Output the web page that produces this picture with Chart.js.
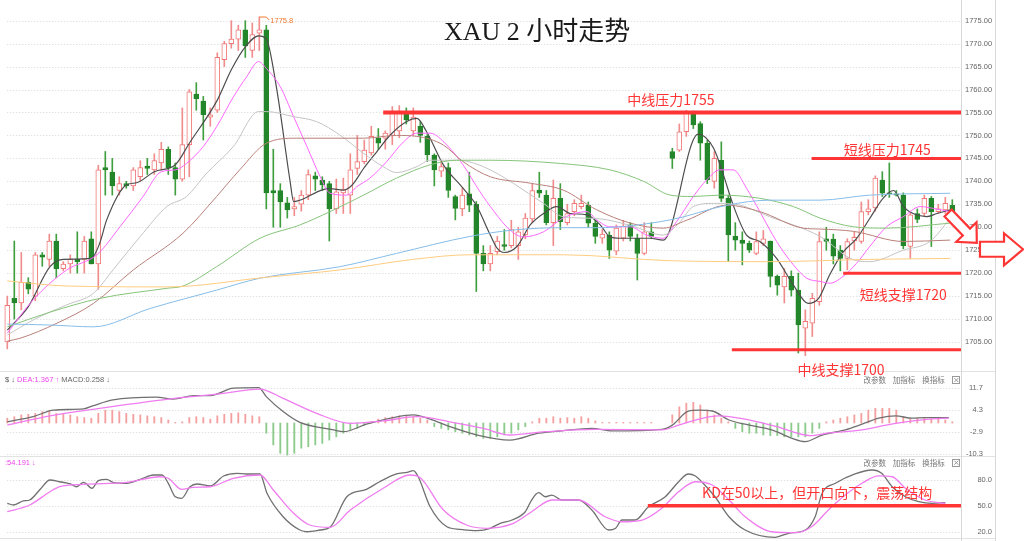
<!DOCTYPE html>
<html>
<head>
<meta charset="utf-8">
<title>XAU 2 小时走势</title>
<script src="https://cdn.jsdelivr.net/npm/chart.js@4.4.0/dist/chart.umd.min.js"></script>
<style>
  html, body { margin: 0; padding: 0; background: #fff; }
  canvas { display: block; }
</style>
</head>
<body>
<canvas id="chart" width="1024" height="541"></canvas>
<script>
// XAU 2h candles + MA lines, MACD and KD panels

// one entry per 2h bar: [open, high, low, close]; null = empty slot
const ohlc = [
  [1705, 1715, 1703.5, 1713], [1714.5, 1727, 1710, 1713.5], [1713.5, 1724.5, 1712, 1718], [1718, 1719, 1715.5, 1716.5],
  [1715, 1724.5, 1714, 1724], [1724, 1724.5, 1721.5, 1723.5], [1723, 1728.5, 1721.5, 1727], [1727, 1728.5, 1719, 1721],
  [1721, 1722.5, 1720.5, 1722], [1722, 1724, 1720, 1723], [1723, 1729, 1720, 1722.5], [1723, 1728, 1720, 1727],
  [1727.5, 1729, 1722, 1722], [1722, 1743.5, 1716.5, 1742.5], [1743, 1746.5, 1737, 1742.5], [1742, 1745, 1737, 1739],
  [1738, 1741, 1737, 1739.5], [1739.5, 1740, 1738.5, 1739], [1739, 1743, 1738, 1742.5], [1741, 1744.5, 1740, 1743],
  [1743.3, 1745, 1741.5, 1742.8], [1742.5, 1746, 1741.5, 1744.5], [1744, 1748.5, 1742.5, 1747], [1747, 1747.5, 1741.5, 1743],
  [1743, 1744, 1737, 1740.5], [1740.5, 1756, 1740, 1748], [1748, 1760, 1741, 1759.5], [1759, 1761.5, 1755.5, 1758],
  [1757.5, 1758.5, 1749, 1754.5], [1754, 1756, 1752, 1754.5], [1755.5, 1768, 1755, 1767], [1766.5, 1770.5, 1765, 1770],
  [1770, 1775, 1769, 1771], [1771, 1774, 1768.5, 1773], [1773, 1775, 1767, 1769.5], [1768.5, 1774.5, 1767, 1772],
  [1772.3, 1775.8, 1768.5, 1773], [1773, 1774, 1734, 1737.5], [1738, 1747, 1730, 1737.5], [1738, 1739.5, 1730, 1735.5],
  [1735.3, 1736.5, 1732, 1733.8], [1734, 1736.5, 1732.5, 1734.5], [1735, 1738, 1733.5, 1737], [1737, 1742.5, 1736, 1741.5],
  [1741.2, 1742, 1738, 1740.5], [1740.3, 1741, 1738, 1739.2], [1739.5, 1740, 1727, 1734], [1734, 1740.5, 1733, 1737.7],
  [1737.5, 1740.7, 1733, 1738.2], [1737, 1746, 1733, 1742.5], [1742.8, 1750, 1741.5, 1744.3], [1744.3, 1749, 1743.8, 1746.8],
  [1746.2, 1752, 1745.7, 1749.8], [1749.5, 1751.5, 1747, 1748.3], [1749.4, 1751, 1747, 1750.5], [1750, 1756.3, 1748, 1755],
  [1751, 1756.5, 1749.5, 1755], [1754.8, 1756, 1752.5, 1753.4], [1751, 1756, 1750, 1754], [1752, 1753, 1748.5, 1750],
  [1749.8, 1750.2, 1744.3, 1745.8], [1745.7, 1746, 1739, 1742.5], [1742.2, 1744.5, 1741, 1743.2], [1743, 1744, 1736.5, 1738],
  [1736.7, 1737, 1731.6, 1734.1], [1734, 1738.5, 1732.5, 1737], [1737.3, 1742, 1733.4, 1734.8], [1735, 1735.6, 1716, 1724.3],
  [1724.3, 1726, 1720.5, 1722], [1722, 1726, 1720.5, 1724.3], [1724.7, 1728, 1724, 1727], [1726.2, 1729.5, 1725, 1725.8],
  [1726, 1731.5, 1725.5, 1729.5], [1726, 1730, 1723, 1729], [1728.3, 1733, 1727.5, 1732], [1731.8, 1739.5, 1731, 1738],
  [1738.1, 1742, 1736.5, 1737.4], [1737, 1738, 1730.5, 1731], [1731, 1740.3, 1726, 1736.3], [1736.3, 1739.5, 1729.5, 1731.2],
  [1731, 1735, 1730.5, 1733], [1733.4, 1736, 1732.5, 1735.2], [1734.5, 1737, 1734, 1735.2], [1734.8, 1735.5, 1730, 1730.9],
  [1730.9, 1731.5, 1726.5, 1728], [1727.6, 1729.5, 1726.5, 1728.5], [1728.3, 1729, 1723.2, 1725], [1724.8, 1730.5, 1724, 1729.8],
  [1727.6, 1731.5, 1727, 1730.2], [1730.5, 1731, 1727, 1728], [1727.6, 1728.5, 1718.5, 1724.3], [1724.3, 1731, 1724, 1729],
  [1729, 1731, 1727.5, 1728], null, null, [1746.5, 1747.2, 1742.8, 1745],
  [1746.8, 1752.5, 1746.5, 1750.8], [1750.8, 1755.5, 1749.8, 1754.8], [1754.8, 1755.3, 1751.5, 1752.3], [1752.6, 1753, 1744.6, 1748.3],
  [1748.3, 1749, 1739.5, 1740.3], [1740, 1746.5, 1738.5, 1745], [1744.6, 1748.6, 1735.6, 1736.3], [1736.3, 1737, 1722.5, 1728.3],
  [1728, 1731, 1725, 1727.2], [1727.2, 1729, 1721.8, 1726.5], [1726.5, 1727, 1724.5, 1725], [1724.3, 1729, 1724, 1726.9],
  [1726.5, 1729.3, 1726, 1727.5], [1727, 1727, 1717, 1719.3], [1719.3, 1719.6, 1715.2, 1717.4], [1717, 1721, 1713.5, 1719.3],
  [1719.3, 1720.5, 1715, 1716.3], [1716.3, 1720, 1702.6, 1708.7], [1708, 1712, 1702, 1709.5], [1709.1, 1715.6, 1706.2, 1714.5],
  [1713.8, 1729, 1713, 1726.9], [1727.5, 1730, 1725, 1726.9], [1727.4, 1728.5, 1722, 1723.7], [1725, 1726, 1720.5, 1723.2],
  [1723.2, 1727.5, 1720.7, 1726.9], [1727, 1729, 1725, 1727.8], [1726.9, 1735.5, 1726.5, 1733.4], [1733.4, 1736, 1732.7, 1734],
  [1734.2, 1741.2, 1733.5, 1740.7], [1740.3, 1742.1, 1736.7, 1737.4], [1737.5, 1744, 1736.5, 1737.3], [1737.3, 1738, 1736.8, 1737],
  [1737, 1737.5, 1725.3, 1726], [1725.8, 1733.2, 1723.2, 1732.7], [1733, 1734, 1731, 1731.7], [1733, 1737, 1732.5, 1736.3],
  [1736.3, 1736.7, 1725.8, 1733.4], [1733.4, 1735, 1733, 1734], [1733.8, 1736.5, 1733, 1735.2], [1734.8, 1736, 1730.5, 1731.6]
];

// moving averages: [bar index, price]
const ma5 = [[0,1707.6],[3,1712.7],[6.1,1721.4],[8,1723],[12,1723.2],[13.2,1726.5],[14.2,1731.6],[17,1739.2],[18.5,1739.7],[21,1742.1],[24,1743.6],[26,1748.3],[30,1757.7],[32,1764.3],[34,1769.3],[35.9,1771.7],[37,1771],[38.5,1760],[40.4,1740],[40.9,1735.6],[42,1736],[44.9,1738.1],[46.1,1738.4],[48,1738.1],[49.2,1739.1],[50.9,1742.8],[52.8,1746.5],[54.7,1750.1],[57,1753],[58.5,1753.7],[59.9,1750.8],[62.3,1743.6],[65.1,1738.5],[67,1734.8],[69,1728.3],[70,1725.4],[71,1724.5],[72.8,1725.8],[74.7,1730.5],[76.6,1733],[78.5,1734.5],[80.4,1733],[82.8,1732.7],[84.7,1730.5],[86.1,1727.9],[87.5,1727.6],[89.4,1727.6],[91.8,1727.6],[93.7,1727.2],[98.7,1750.3],[100.9,1747.2],[102.3,1741.4],[103.7,1734.8],[105.6,1728.3],[107.5,1726.9],[109.9,1723.2],[112.3,1717.4],[114.4,1713.4],[115.9,1714.5],[117.5,1719.7],[119.4,1724.6],[121.3,1727.5],[123.2,1731.9],[125.1,1736.3],[126.6,1738],[128,1734.5],[129.4,1733],[131.3,1732.3],[132.8,1733],[134.7,1733.8]];
const ma10 = [[0,1706.9],[3.7,1714.2],[8.5,1720.7],[12.8,1724],[16.1,1730.1],[19.4,1736.7],[22,1742.1],[24,1742.5],[25.6,1743.9],[28,1747.6],[29.9,1751.9],[32.3,1758.4],[34.2,1762.8],[35.9,1766.1],[37,1764.6],[39,1760.6],[40.9,1754.1],[42.8,1747.6],[44.7,1741],[46.1,1737.4],[48.5,1737],[49.9,1738.8],[51.8,1740.7],[54.2,1744.3],[56.6,1748.6],[58.5,1750.5],[60.4,1750.5],[62.8,1747.9],[65.1,1743.6],[67.5,1737.8],[69.5,1733.5],[71.8,1729.4],[73.7,1727.9],[76.6,1729],[79.4,1732],[82.8,1733.4],[84.2,1731.6],[86.1,1730.1],[89,1730.1],[91.3,1728.3],[93.7,1727.6],[95.6,1731.2],[98,1736.7],[99.9,1740.3],[101.8,1742.5],[103.7,1742.5],[105.6,1738.5],[107.5,1733.4],[109.9,1726.9],[112.3,1721.8],[114.2,1718.9],[116.1,1718.2],[117.5,1717.8],[119.4,1719.3],[121.3,1722.1],[123.2,1725.8],[125.6,1730.1],[128,1732.3],[130.4,1734.5],[132.3,1734.1],[134.7,1733.4]];
const ma20 = [[0,1706.5],[3.7,1709.8],[8.5,1713.1],[12.3,1715.6],[15.1,1720.7],[19,1728],[22.8,1734.5],[25.6,1736.7],[28.5,1741.8],[32.3,1747.6],[35.9,1755.2],[37,1755.2],[40.9,1754.1],[44.2,1753],[47.5,1750.1],[50.9,1746.1],[53.7,1743.2],[55.6,1741.9],[58.5,1743.2],[60.4,1744.6],[64.2,1744.6],[68,1743.2],[76.6,1735.2],[79.4,1732.3],[84.2,1731.9],[89,1730.4],[93.7,1728.3],[96,1731],[98,1734.5],[100.9,1735.2],[104,1735],[108.9,1732.3],[116.1,1728],[120.9,1722.9],[123.2,1722.5],[128,1725],[131.8,1726.9],[134.7,1731.9]];
const ma30 = [[0,1705.2],[1.8,1705.8],[7.1,1709.1],[12.3,1713.4],[18,1720.7],[25.1,1728.7],[29.9,1736.7],[33.2,1742.5],[37,1748.3],[41.3,1749.4],[50.9,1749.4],[55.6,1750],[58.5,1749.8],[62.3,1747.9],[65.1,1744.3],[69,1741],[74.7,1739.6],[79.4,1738.1],[84.2,1733.8],[89,1730.9],[93.7,1729.8],[97,1731.5],[102.8,1734.8],[107.5,1733.4],[113.7,1729.8],[116.1,1729.6],[120.9,1729.1],[128,1726.9],[134.7,1727.2]];
const ma60 = [[0,1708.3],[6.1,1711.5],[13.2,1714.5],[22.8,1716.7],[25.1,1717.2],[29.9,1721.4],[36.1,1727.6],[41.8,1730.5],[46.1,1733.4],[50.9,1737],[55.6,1740.7],[60.4,1743.6],[64.2,1744.6],[69,1744.6],[79,1743.9],[86.1,1742.5],[90.9,1740],[94.7,1737],[98,1736.7],[101.8,1737],[107.5,1736.3],[112.3,1734.5],[116.1,1732],[120.9,1730.1],[125.6,1729.8],[134.7,1730.9]];
const ma120 = [[0,1708.9],[6.1,1708.7],[12.3,1708.3],[20.4,1712.3],[29.9,1716.3],[36.1,1718.9],[47.5,1721.4],[55.6,1724.3],[66.1,1728],[72.3,1729.4],[79.4,1729.9],[84.2,1729.9],[94.7,1731.6],[102.8,1734.8],[108.9,1735.9],[116.1,1735.9],[123.2,1737],[134.7,1737.4]];
const ma250 = [[0,1718.3],[8.5,1717.2],[22.8,1717],[37,1719.1],[47.5,1720.7],[58,1723],[66.1,1724],[79.4,1724],[94.7,1722.7],[108.9,1722.5],[123.2,1723],[134.7,1723.2]];

// MACD histogram, one per bar
const macdHist = [
  1.6,2.1,2.7,2.9,3.2,3.8,4.1,3.2,2.9,2.7, 2.1,1.8,1.6,3.2,4.3,4.3,3.8,3.2,2.9,2.7,
  2.4,2.1,1.8,1.0,0.2,0.4,1.8,2.1,1.8,1.3, 2.4,2.9,3.2,3.4,2.9,2.4,2.1,-3.4,-7.3,-10.1,
  -10.7,-10.1,-8.4,-7.9,-7.3,-6.8,-5.7,-4.6,-3.4,-2.3, -1.8,-0.7,0.5,1.3,1.8,2.1,2.4,2.4,2.1,1.6,
  1.0,-1.2,-1.8,-2.3,-2.9,-3.4,-4.0,-4.6,-5.1,-5.1, -4.6,-4.0,-3.4,-2.3,-1.2,0.4,1.6,1.6,2.1,1.6,
  1.8,1.6,2.1,1.6,0.7,0.2,0.2,0.2,0.2,0.2, 0.2,0.2,0.2,null,null,2.7,5.4,6.6,6.9,6.0,
  4.3,2.7,1.6,0.4,-1.8,-2.9,-3.4,-3.4,-4.0,-4.2, -4.2,-4.6,-4.6,-4.6,-4.6,-3.4,-1.8,0.4,1.0,1.6,
  2.1,2.7,3.2,4.3,4.9,4.9,4.9,4.3,2.1,1.6, 1.6,1.6,1.3,1.3,1.0,0.4
];
const macdDif = [[0,0.4],[3.7,2.1],[6.6,4.3],[10.9,4.7],[12.3,5.8],[15.1,7.7],[21.3,8.6],[23.7,8.0],[26.6,9.1],[29,9.1],[32.3,11.6],[35.9,11.8],[37,8.8],[39.4,3.8],[41.8,0.2],[46.6,-2.3],[48,-2.9],[51.3,-0.4],[55.1,1.8],[58,2.7],[60.4,1.3],[63.2,-1.2],[67.1,-4],[71.8,-5.7],[75.9,-3.4],[79.2,-2.6],[83.5,-1.8],[86.4,-2.6],[93.5,-2.1],[95,-0.7],[97.3,4],[98.8,4.3],[100.7,4],[103.1,1],[105.4,-0.4],[109.2,-2.3],[112.1,-5.1],[114,-6.2],[116.4,-4],[119.7,-2.3],[122.1,-0.4],[124.5,1.6],[126.9,2.4],[129.2,1.6],[131.1,1.8],[134.5,1.8]];
const macdDea = [[0,-0.7],[6.1,2.4],[13.2,4.9],[22.8,7.9],[29.9,9.6],[36.1,11.3],[39.4,8.2],[44.2,3.2],[49,-0.1],[53.7,0.7],[58.5,2.1],[63.2,0.4],[68,-1.8],[71.8,-4],[76.9,-2.9],[84,-2.1],[93.5,-2.3],[95.9,-0.7],[98.3,1],[101.6,2.4],[105.4,1.3],[109.9,-1.2],[114.7,-4.2],[117.1,-3.4],[122.1,-2.3],[126.9,-0.1],[131.7,1.3],[134.5,1.6]];

// KD
const kdK = [[0,52.8],[0.9,50.8],[2.3,55.5],[3.2,56.6],[4.7,69],[6.1,79.8],[7.5,77.8],[9,75.2],[9.9,72],[10.9,77.1],[12.1,70.2],[13,79],[14.2,80.6],[15.1,77.1],[17.1,76],[19,80.6],[20.9,85.6],[22.1,85.6],[23,76],[24,60.4],[24.9,58.6],[26.1,72],[27.1,75.2],[29,72.9],[30.9,84.5],[32.8,87.6],[34.2,86.8],[36.1,86.8],[37.1,64.4],[39.4,37.2],[41.8,21.8],[42.8,19.8],[44.7,21.8],[46.1,24.9],[48.5,60.4],[51.3,69],[53.2,77.8],[55.6,86.8],[57.1,88.7],[58,90.6],[58.7,83.6],[60.4,48.8],[62.8,25.6],[64.7,22.6],[67.1,21],[69,23.8],[70.4,29.6],[72.1,33.4],[74,43],[74.9,56.6],[75.9,65.1],[76.9,60.4],[77.8,62.3],[79.2,56.6],[81.6,56.6],[83.5,45],[85.9,21.8],[86.9,23.8],[87.8,33.4],[89.7,33.4],[91.6,48.8],[94,60.4],[95.9,77.8],[97.3,86.8],[98.3,84.5],[99.2,77.8],[101.1,60.4],[103.1,37.2],[105.4,21.8],[109.7,13.3],[111.6,18],[114,21.8],[115.4,37.2],[116.4,64.4],[118.3,76],[121.1,86.8],[123.5,91.4],[124.9,87.6],[126.4,72],[128.3,60.4],[130.2,54.6],[132.1,52.8],[134,53.5]];
const kdD = [[0,43],[3.2,50.8],[6.1,66.2],[7.5,72],[10.9,74.8],[17.1,77.1],[21.8,83.6],[23,81.8],[24.9,69],[26.6,71.3],[29,72],[32.3,81.8],[36.1,85.6],[38,68.2],[40.9,41.2],[43.2,27.6],[46.1,24.9],[49,45],[53.7,70.2],[57.5,85.6],[58.9,82.9],[62.3,45],[65.6,27.6],[68.5,23.8],[72.1,28.8],[74.9,43],[77.8,56.6],[81.6,56.6],[85.4,37.2],[87.8,31.4],[90.7,33.4],[93.5,47],[95.9,66.2],[98.3,77.8],[100.7,74],[103.1,56.6],[105.4,37.2],[109.2,19.8],[112.6,18.7],[114.9,25.6],[117.3,45],[119.7,62.4],[122.1,76],[124.5,84.5],[126.4,83.6],[128.3,70.2],[131.1,56.6],[134,52.8]];

// tick labels
const priceTicks = [1705, 1710, 1715, 1720, 1725, 1730, 1735, 1740, 1745, 1750, 1755, 1760, 1765, 1770, 1775];
const macdTicks = [11.7, 4.3, -2.9, -10.3];
const kdTicks = [80, 50, 20];

// support / resistance marks: [from bar, price, label]
const levels = [
  [53.7, 1755, '中线压力1755'],
  [114.9, 1745, '短线压力1745'],
  [119.4, 1720, '短线支撑1720'],
  [103.5, 1703.3, '中线支撑1700']
];
const kdLevel = [91.5, 50, 'KD在50以上，但开口向下，震荡结构'];

const RED = '#ff3535';
const CJK = '"Noto Sans CJK SC", "Liberation Sans", sans-serif';
const xMin = -0.614, xMax = 136.24;

const pts = arr => arr.map(([x, y]) => ({ x, y }));
const bars = [];
ohlc.forEach((c, i) => { if (c) bars.push({ i, o: c[0], h: c[1], l: c[2], c: c[3], up: c[3] >= c[0] }); });

function maLine(data, color, width) {
  return {
    type: 'line', data: pts(data), yAxisID: 'y', borderColor: color, borderWidth: width || 1,
    pointRadius: 0, cubicInterpolationMode: 'monotone', order: 1
  };
}
function subLine(data, axis, color) {
  return {
    type: 'line', data: pts(data), yAxisID: axis, borderColor: color, borderWidth: 1.3,
    pointRadius: 0, cubicInterpolationMode: 'monotone', order: 1
  };
}
function levelLine(from, val, axis, width) {
  return {
    type: 'line', data: [{ x: from, y: val }, { x: xMax, y: val }], yAxisID: axis,
    borderColor: RED, borderWidth: width, pointRadius: 0, order: 0
  };
}

const datasets = [
  // wicks
  {
    type: 'bar', data: bars.map(b => ({ x: b.i, y: [b.l, b.h] })), yAxisID: 'y',
    backgroundColor: bars.map(b => b.up ? '#f08c8c' : '#3f9f3f'),
    barThickness: 1, grouped: false, order: 3
  },
  // bodies
  {
    type: 'bar', data: bars.map(b => ({ x: b.i, y: [b.o, b.c] })), yAxisID: 'y',
    backgroundColor: bars.map(b => b.up ? '#ffffff' : '#23862a'),
    borderColor: bars.map(b => b.up ? '#f07878' : '#23862a'),
    borderWidth: 1, borderSkipped: false, minBarLength: 1,
    barThickness: 5, grouped: false, order: 2
  },
  // MACD histogram
  {
    type: 'bar', data: macdHist.map((v, i) => ({ x: i, y: v })).filter(p => p.y !== null), yAxisID: 'macd',
    backgroundColor: macdHist.filter(v => v !== null).map(v => v >= 0 ? '#f4a0a0' : '#8ccb8c'),
    barThickness: 1.2, grouped: false, order: 3
  },
  maLine(ma250, '#ffcc80'),
  maLine(ma120, '#86bde9'),
  maLine(ma60, '#86c47a'),
  maLine(ma30, '#b9807a'),
  maLine(ma20, '#c4c4c4'),
  maLine(ma10, '#ff66ff'),
  maLine(ma5, '#4d4d4d', 1.2),
  subLine(macdDea, 'macd', '#f07cf0'),
  subLine(macdDif, 'macd', '#707070'),
  subLine(kdD, 'kd', '#f07cf0'),
  subLine(kdK, 'kd', '#707070'),
  levelLine(levels[0][0], levels[0][1], 'y', 4),
  levelLine(levels[1][0], levels[1][1], 'y', 3),
  levelLine(levels[2][0], levels[2][1], 'y', 3),
  levelLine(levels[3][0], levels[3][1], 'y', 3),
  levelLine(kdLevel[0], kdLevel[1], 'kd', 3.5)
];

function arrow(ctx, x1, y1, x2, y2, sh, hh, hl) {
  const len = Math.hypot(x2 - x1, y2 - y1);
  const dx = (x2 - x1) / len, dy = (y2 - y1) / len;
  const nx = -dy, ny = dx;
  const bx = x2 - dx * hl, by = y2 - dy * hl;
  ctx.beginPath();
  ctx.moveTo(x1 + nx * sh, y1 + ny * sh);
  ctx.lineTo(bx + nx * sh, by + ny * sh);
  ctx.lineTo(bx + nx * hh, by + ny * hh);
  ctx.lineTo(x2, y2);
  ctx.lineTo(bx - nx * hh, by - ny * hh);
  ctx.lineTo(bx - nx * sh, by - ny * sh);
  ctx.lineTo(x1 - nx * sh, y1 - ny * sh);
  ctx.closePath();
  ctx.fillStyle = '#fff';
  ctx.fill();
  ctx.stroke();
}

const decor = {
  id: 'decor',
  beforeDatasetsDraw(chart) {
    const { ctx, chartArea: a, scales: s } = chart;
    const x0 = s.x.getPixelForValue(0);
    ctx.save();
    // dotted grid
    ctx.strokeStyle = '#d6d6d6';
    ctx.lineWidth = 1;
    ctx.setLineDash([1, 2]);
    const hline = (sc, v) => {
      const y = Math.round(sc.getPixelForValue(v)) + 0.5;
      ctx.beginPath(); ctx.moveTo(x0, y); ctx.lineTo(a.right, y); ctx.stroke();
    };
    priceTicks.forEach(v => hline(s.y, v));
    macdTicks.forEach(v => hline(s.macd, v));
    kdTicks.forEach(v => hline(s.kd, v));
    ctx.setLineDash([]);
    // panel frames
    ctx.strokeStyle = '#e2e2e2';
    [s.macd.getPixelForValue(17.3), s.macd.getPixelForValue(-10.9), s.kd.getPixelForValue(12.3)].forEach(y => {
      y = Math.round(y) + 0.5;
      ctx.beginPath(); ctx.moveTo(0, y); ctx.lineTo(996, y); ctx.stroke();
    });
    ctx.strokeStyle = '#d8d8d8';
    [a.right + 0.5, 995.5].forEach(x => {
      ctx.beginPath(); ctx.moveTo(x, 0); ctx.lineTo(x, a.bottom); ctx.stroke();
    });
    ctx.restore();
  },
  afterDraw(chart) {
    const { ctx, scales: s } = chart;
    const X = v => s.x.getPixelForValue(v);
    ctx.save();
    ctx.textBaseline = 'middle';

    // sub-panel axis labels
    ctx.font = '7.5px "Liberation Sans", sans-serif';
    ctx.fillStyle = '#666';
    ctx.textAlign = 'right';
    macdTicks.forEach(v => ctx.fillText(String(v), 983, s.macd.getPixelForValue(v)));
    kdTicks.forEach(v => ctx.fillText(v.toFixed(1), 992, s.kd.getPixelForValue(v)));

    // title
    ctx.textAlign = 'center';
    ctx.fillStyle = '#1a1a1a';
    ctx.font = '26px "Liberation Serif", "Noto Sans CJK SC", serif';
    ctx.fillText('XAU 2 小时走势', X(75.7), s.y.getPixelForValue(1772.3));

    // high marker
    const hx = X(36), hy = s.y.getPixelForValue(1775.8);
    ctx.strokeStyle = '#f07a30';
    ctx.lineWidth = 1;
    ctx.beginPath(); ctx.moveTo(hx, hy); ctx.lineTo(hx + 7, hy); ctx.lineTo(hx + 10, hy + 3); ctx.stroke();
    ctx.fillStyle = '#f07a30';
    ctx.font = '7.5px "Liberation Sans", sans-serif';
    ctx.textAlign = 'left';
    ctx.fillText('1775.8', hx + 11, hy + 3.5);

    // level labels
    ctx.font = '14px ' + CJK;
    ctx.fillStyle = RED;
    ctx.textAlign = 'center';
    const lbl = [[94.8, 1757.8], [125.7, 1747.0], [128.0, 1715.4], [119.1, 1698.9]];
    levels.forEach((lv, k) => ctx.fillText(lv[2], X(lbl[k][0]), s.y.getPixelForValue(lbl[k][1])));
    ctx.fillText(kdLevel[2], X(115.7), s.kd.getPixelForValue(64.7));

    // panel headers
    const hdrY = [s.macd.getPixelForValue(14.3), s.kd.getPixelForValue(99.9)];
    ctx.font = '7.5px ' + CJK;
    ctx.fillStyle = '#777';
    ctx.textAlign = 'left';
    hdrY.forEach(y => {
      ctx.fillText('改参数', X(122.3), y);
      ctx.fillText('加指标', X(126.5), y);
      ctx.fillText('换指标', X(130.7), y);
      const bx = X(135.0);
      ctx.strokeStyle = '#999';
      ctx.strokeRect(Math.round(bx) + 0.5, Math.round(y - 4) + 0.5, 7, 7);
      ctx.beginPath();
      ctx.moveTo(bx + 2, y - 2); ctx.lineTo(bx + 6, y + 2);
      ctx.moveTo(bx + 6, y - 2); ctx.lineTo(bx + 2, y + 2);
      ctx.stroke();
    });

    // indicator readouts
    ctx.font = '7.5px "Liberation Sans", sans-serif';
    let tx = 5;
    const my = hdrY[0];
    [['$ ↓ ', '#555'], ['DEA:1.367 ↑ ', '#ee44ee'], ['MACD:0.258 ↓', '#666']].forEach(([t, c]) => {
      ctx.fillStyle = c; ctx.fillText(t, tx, my); tx += ctx.measureText(t).width;
    });
    ctx.fillStyle = '#ee44ee';
    ctx.fillText(':54.191 ↓', 5, hdrY[1]);

    // direction arrows
    ctx.strokeStyle = RED;
    ctx.lineWidth = 2.2;
    ctx.lineJoin = 'miter';
    const ay = v => s.y.getPixelForValue(v);
    arrow(ctx, X(134.4), ay(1733.1), X(138.5), ay(1726.6), 5, 14, 15);
    arrow(ctx, X(138.95), ay(1725.2), X(145.1), ay(1725.2), 7.5, 16, 19);
    ctx.restore();
  }
};

new Chart(document.getElementById('chart'), {
  data: { datasets },
  options: {
    responsive: false,
    animation: false,
    events: [],
    layout: { padding: { left: 3, right: 0, top: 0, bottom: 0 } },
    plugins: { legend: { display: false }, tooltip: { enabled: false } },
    scales: {
      x: { type: 'linear', min: xMin, max: xMax, bounds: 'data', offset: false, grid: { offset: false }, display: false },
      y: {
        type: 'linear', position: 'right', min: 1661.64, max: 1779.51, bounds: 'data',
        afterBuildTicks: sc => { sc.ticks = priceTicks.map(v => ({ value: v })); },
        afterFit: sc => { sc.width = 63; sc.paddingTop = 0; sc.paddingBottom = 0; },
        grid: { display: false, drawTicks: false },
        border: { display: false },
        ticks: {
          autoSkip: false, padding: 4, color: '#666',
          font: { size: 7.5, family: '"Liberation Sans", sans-serif' },
          callback: v => Number(v).toFixed(2)
        }
      },
      macd: { type: 'linear', min: -39.33, max: 141, bounds: 'data', display: false },
      kd: { type: 'linear', min: 9.05, max: 636.66, bounds: 'data', display: false }
    }
  },
  plugins: [decor]
});
</script>
</body>
</html>
